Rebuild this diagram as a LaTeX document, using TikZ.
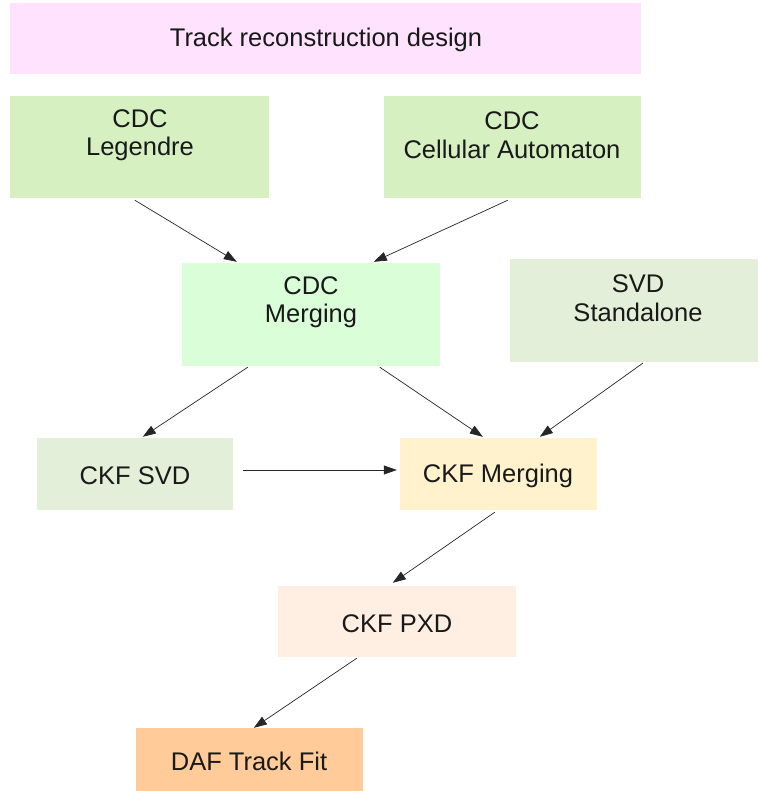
\documentclass[tikz,border=0pt]{standalone}
\usepackage{fontspec}
\setmainfont{Liberation Sans}
\usetikzlibrary{calc,arrows.meta}
\definecolor{cpink}{HTML}{FEE2FE}
\definecolor{cgreenA}{HTML}{D6F0C2}
\definecolor{cgreenB}{HTML}{D9FED8}
\definecolor{cgreenC}{HTML}{E3EFD8}
\definecolor{cyel}{HTML}{FFF2CC}
\definecolor{cpeach}{HTML}{FFEFE3}
\definecolor{corange}{HTML}{FFCC99}
\tikzset{
  box/.style={draw=none, inner sep=0pt, rectangle},
  lbl/.style={font=\fontsize{25.5}{28.5}\selectfont, align=center, text=black!90, inner sep=0pt},
  conn/.style={draw=black!85, line width=0.7pt, -{Triangle[length=13pt,width=9pt]}, shorten >=0pt}
}
\begin{document}
\begin{tikzpicture}[x=1pt,y=-1pt]
\useasboundingbox[fill=white] (0,0) rectangle (758,791);
% boxes
\node[box, fill=cpink, minimum width=631pt, minimum height=71pt] (title) at (325.5,38.5) {};
\node[lbl] (titlet) at (326,40) {Track reconstruction design};

\node[box, fill=cgreenA, minimum width=259pt, minimum height=102pt] (leg) at (139.5,147) {};
\node[lbl] (legt) at (140,135) {CDC\\Legendre};

\node[box, fill=cgreenA, minimum width=257pt, minimum height=102pt] (aut) at (512.5,147) {};
\node[lbl] (autt) at (512,135) {CDC\\Cellular Automaton};

\node[box, fill=cgreenB, minimum width=258pt, minimum height=103pt] (mrg) at (311,314.5) {};
\node[lbl] (mrgt) at (311,302) {CDC\\Merging};

\node[box, fill=cgreenC, minimum width=248pt, minimum height=103pt] (svd) at (634,310.5) {};
\node[lbl] (svdt) at (638,298) {SVD\\Standalone};

\node[box, fill=cgreenC, minimum width=196pt, minimum height=72pt] (ckfsvd) at (135,474) {};
\node[lbl] (ckfsvdt) at (135,476) {CKF SVD};

\node[box, fill=cyel, minimum width=197pt, minimum height=72pt] (ckfm) at (498.5,474) {};
\node[lbl] (ckfmt) at (498,476) {CKF Merging};

\node[box, fill=cpeach, minimum width=238pt, minimum height=71pt] (pxd) at (397,621.5) {};
\node[lbl] (pxdt) at (397,624) {CKF PXD};

\node[box, fill=corange, minimum width=227pt, minimum height=63pt] (daf) at (249.5,759.5) {};
\node[lbl] (daft) at (249,761) {DAF Track Fit};

% connectors
\draw[conn] ($(leg.south west)+(125,2)$) -- ($(mrg.north west)+(55,-1)$);
\draw[conn] ($(aut.south west)+(124,2)$) -- ($(mrg.north west)+(192,-1)$);
\draw[conn] ($(mrg.south west)+(66,1)$) -- ($(ckfsvd.north west)+(106,-1)$);
\draw[conn] ($(mrg.south west)+(198,1)$) -- ($(ckfm.north west)+(83,-1)$);
\draw[conn] ($(svd.south west)+(133,1)$) -- ($(ckfm.north west)+(140,-1)$);
\draw[conn] ($(ckfsvd.east)+(10,-4)$) -- ($(ckfm.west)+(-3,-4)$);
\draw[conn] ($(ckfm.south west)+(95,2)$) -- ($(pxd.north west)+(115,-3)$);
\draw[conn] ($(pxd.south west)+(79,1)$) -- ($(daf.north west)+(118,0)$);
\end{tikzpicture}
\end{document}
